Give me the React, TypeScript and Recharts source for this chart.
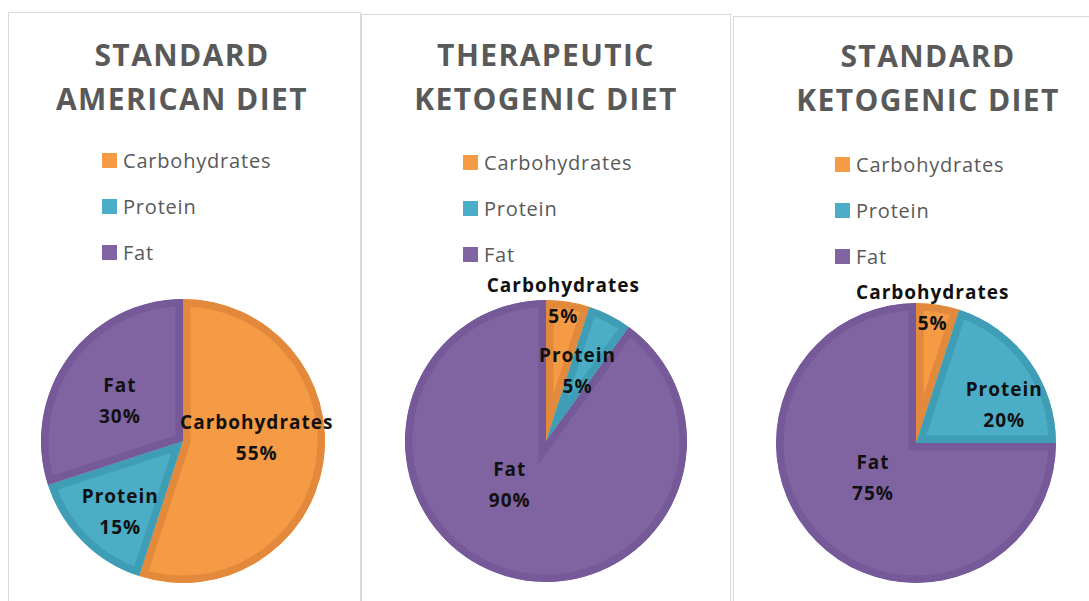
import { Cell, Pie, PieChart, Sector } from 'recharts';

const CATEGORIES = ['Carbohydrates', 'Protein', 'Fat'];
const STANDARD_AMERICAN = [55, 15, 30];
const THERAPEUTIC_KETO = [5, 5, 90];
const STANDARD_KETO = [5, 20, 75];
const SERIES = [STANDARD_AMERICAN, THERAPEUTIC_KETO, STANDARD_KETO];
const TITLES = [
  ['STANDARD', 'AMERICAN DIET'],
  ['THERAPEUTIC', 'KETOGENIC DIET'],
  ['STANDARD', 'KETOGENIC DIET'],
];

const FILL: Record<string, string> = {
  Carbohydrates: '#f59a45',
  Protein: '#4badc6',
  Fat: '#8063a1',
};
const DARK: Record<string, string> = {
  Carbohydrates: '#e2893b',
  Protein: '#409db6',
  Fat: '#755999',
};

// panel boxes, pie geometry, title/legend anchors (page px)
const PANELS = [
  { left: 8, top: 12, width: 353, cx: 183, cy: 441, r: 142, titleX: 182, titleY: 33, legX: 102, legY: 160 },
  { left: 361, top: 14, width: 370, cx: 546, cy: 441, r: 141, titleX: 546, titleY: 33, legX: 463, legY: 162 },
  { left: 733, top: 16, width: 370, cx: 916, cy: 443, r: 140, titleX: 928, titleY: 34, legX: 835, legY: 164 },
];

// label spot per slice: radius fraction and angular shift from mid angle
const LABEL_SPOTS = [
  [{ f: 0.52, shift: -12 }, { f: 0.66, shift: -3 }, { f: 0.53, shift: -3 }],
  [{ f: 1.01, shift: -2 }, { f: 0.55, shift: -3 }, { f: 0.4, shift: 22 }],
  [{ f: 0.98, shift: -2 }, { f: 0.69, shift: 12 }, { f: 0.39, shift: 7 }],
];

const FONT = '"Open Sans", sans-serif';

const renderSlice = (props: any) => {
  const { cx, cy, innerRadius, outerRadius, startAngle, endAngle } = props;
  const name = props.payload?.name ?? props.name;
  const id = `clip-${Math.round(cx)}-${name}`;
  const geom = { cx, cy, innerRadius, outerRadius, startAngle, endAngle };
  return (
    <g>
      <defs>
        <clipPath id={id}>
          <Sector {...geom} />
        </clipPath>
      </defs>
      <Sector
        {...geom}
        fill={FILL[name]}
        stroke={DARK[name]}
        strokeWidth={15}
        clipPath={`url(#${id})`}
      />
    </g>
  );
};

const makeLabel = (panel: number) => (props: any) => {
  const { cx, cy, midAngle, outerRadius, index, name, value } = props;
  const spot = LABEL_SPOTS[panel][index];
  const a = ((90 - midAngle + spot.shift) * Math.PI) / 180;
  const x = cx + outerRadius * spot.f * Math.sin(a);
  const y = cy - outerRadius * spot.f * Math.cos(a);
  return (
    <text
      x={x}
      y={y}
      textAnchor="middle"
      fill="#111"
      fontFamily={FONT}
      fontWeight={700}
      fontSize={19}
      letterSpacing={1}
    >
      <tspan x={x} y={y - 15} dominantBaseline="central">
        {name}
      </tspan>
      <tspan x={x} y={y + 16} dominantBaseline="central">
        {value}%
      </tspan>
    </text>
  );
};

export default function App() {
  return (
    <div
      style={{
        position: 'absolute',
        left: 0,
        top: 0,
        width: 1089,
        height: 601,
        overflow: 'hidden',
        background: '#fff',
      }}
    >
      {PANELS.map((p, i) => (
        <div
          key={`panel-${i}`}
          style={{
            position: 'absolute',
            left: p.left,
            top: p.top,
            width: p.width,
            height: 620,
            border: '1px solid #d9d9d9',
            boxSizing: 'border-box',
            background: '#fff',
          }}
        />
      ))}

      <div style={{ position: 'absolute', left: 0, top: 0 }}>
        <PieChart width={1089} height={601} margin={{ top: 0, right: 0, bottom: 0, left: 0 }}>
          {SERIES.map((values, i) => (
            <Pie
              key={`pie-${i}`}
              data={CATEGORIES.map((name, j) => ({ name, value: values[j] }))}
              dataKey="value"
              nameKey="name"
              cx={PANELS[i].cx}
              cy={PANELS[i].cy}
              outerRadius={PANELS[i].r}
              startAngle={90}
              endAngle={-270}
              stroke="none"
              shape={renderSlice}
              label={makeLabel(i)}
              labelLine={false}
              isAnimationActive={false}
            >
              {CATEGORIES.map((name) => (
                <Cell key={name} fill={FILL[name]} />
              ))}
            </Pie>
          ))}
        </PieChart>
      </div>

      {PANELS.map((p, i) => (
        <div
          key={`title-${i}`}
          style={{
            position: 'absolute',
            left: p.titleX - 180,
            top: p.titleY,
            width: 360,
            textAlign: 'center',
            fontFamily: FONT,
            fontWeight: 700,
            fontSize: 30,
            letterSpacing: 1.4,
            lineHeight: '44px',
            color: '#595959',
          }}
        >
          {TITLES[i].map((line) => (
            <div key={line}>{line}</div>
          ))}
        </div>
      ))}

      {PANELS.map((p, i) => (
        <div
          key={`legend-${i}`}
          style={{
            position: 'absolute',
            left: p.legX,
            top: p.legY - 23,
            fontFamily: FONT,
            fontSize: 20,
            letterSpacing: 0.8,
            color: '#595959',
          }}
        >
          {CATEGORIES.map((name) => (
            <div key={name} style={{ height: 46, display: 'flex', alignItems: 'center' }}>
              <span
                style={{
                  display: 'inline-block',
                  width: 15,
                  height: 15,
                  background: FILL[name],
                  marginRight: 6,
                }}
              />
              <span>{name}</span>
            </div>
          ))}
        </div>
      ))}
    </div>
  );
}
